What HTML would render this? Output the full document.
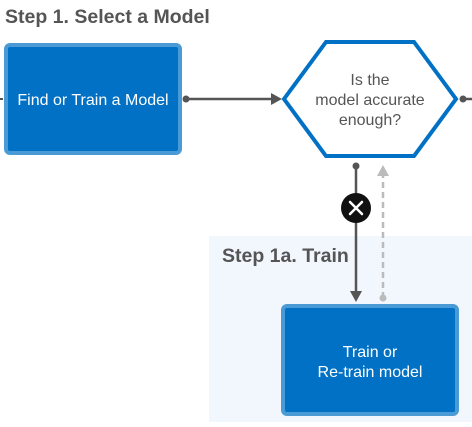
<!DOCTYPE html>
<html><head><style>body{margin:0;background:#fff;width:472px;height:422px;overflow:hidden}</style></head><body>
<svg width="472" height="422" viewBox="0 0 472 422" xmlns="http://www.w3.org/2000/svg" font-family="Liberation Sans, sans-serif">
<rect x="209" y="236" width="263" height="186" fill="#f1f7fd"/>
<text x="5" y="23" font-size="19.5" font-weight="bold" fill="#555">Step 1. Select a Model</text>
<text x="222" y="262" font-size="19.5" font-weight="bold" fill="#555">Step 1a. Train</text>
<line x1="0" y1="99" x2="3" y2="99" stroke="#555" stroke-width="2"/>
<rect x="6" y="45" width="174" height="108" rx="4" fill="#0071c5" stroke="#4a9ad6" stroke-width="4"/>
<text x="93" y="105" font-size="16" fill="#fff" text-anchor="middle">Find or Train a Model</text>
<circle cx="186" cy="99" r="3.5" fill="#555"/>
<line x1="186" y1="99" x2="272" y2="99" stroke="#555" stroke-width="2.5"/>
<polygon points="282,99 271,93 271,105" fill="#555"/>
<polygon points="284,99 326,42 414,42 456,99 414,156 326,156" fill="#fff" stroke="#0071c5" stroke-width="4"/>
<text x="370" y="85" font-size="16" fill="#555" text-anchor="middle">Is the</text>
<text x="370" y="105" font-size="16" fill="#555" text-anchor="middle">model accurate</text>
<text x="370" y="125" font-size="16" fill="#555" text-anchor="middle">enough?</text>
<circle cx="463" cy="99" r="3.5" fill="#555"/>
<line x1="463" y1="99" x2="472" y2="99" stroke="#555" stroke-width="2.5"/>
<circle cx="356" cy="166" r="3.5" fill="#555"/>
<line x1="356" y1="166" x2="356" y2="292" stroke="#555" stroke-width="2.5"/>
<polygon points="356,302 350,291 362,291" fill="#555"/>
<circle cx="356" cy="208" r="15" fill="#111"/>
<path d="M350,202 L362,214 M362,202 L350,214" stroke="#fff" stroke-width="2.5" stroke-linecap="round"/>
<line x1="383" y1="298" x2="383" y2="176" stroke="#bbb" stroke-width="2.5" stroke-dasharray="6,4"/>
<polygon points="383,165 377,176 389,176" fill="#bbb"/>
<circle cx="383" cy="298" r="3.5" fill="#bbb"/>
<rect x="283" y="306" width="174" height="108" rx="4" fill="#0071c5" stroke="#4a9ad6" stroke-width="4"/>
<text x="370" y="357" font-size="16" fill="#fff" text-anchor="middle">Train or</text>
<text x="370" y="377" font-size="16" fill="#fff" text-anchor="middle">Re-train model</text>
</svg>
</body></html>
